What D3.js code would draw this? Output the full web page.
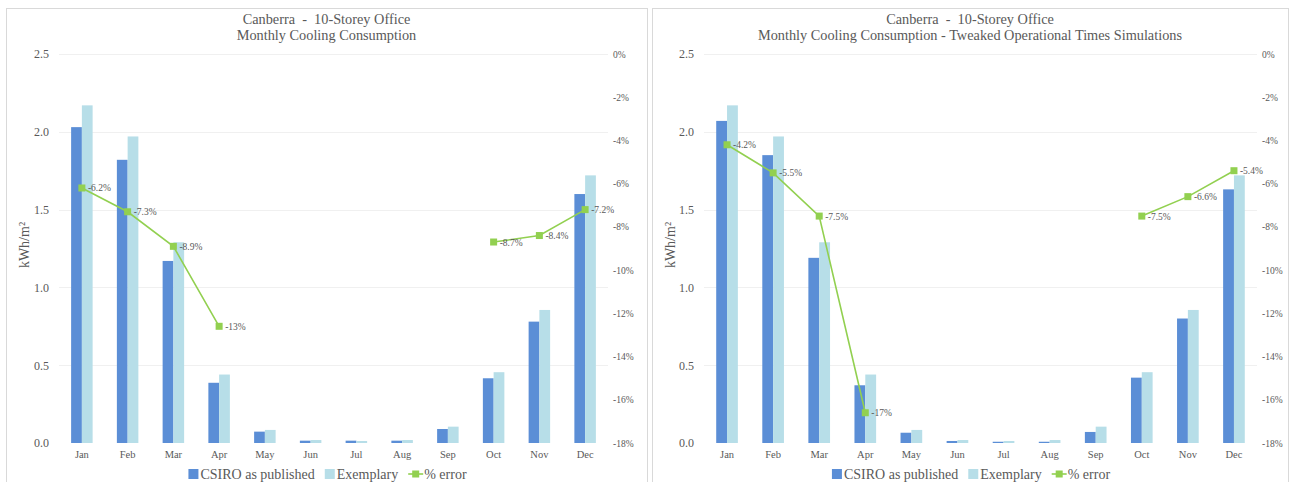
<!DOCTYPE html>
<html>
<head>
<meta charset="utf-8">
<script src="https://cdn.jsdelivr.net/npm/d3@7"></script>
<style>
  html, body { margin: 0; padding: 0; background: #fff; }
  svg { display: block; }
  text { font-family: "Liberation Serif", "DejaVu Serif", serif; fill: #595959; }
  .title { white-space: pre; }
</style>
</head>
<body>
<svg id="chart" width="1290" height="482"></svg>
<script>
// Monthly cooling consumption, Canberra 10-storey office (kWh/m²)
const months = ["Jan", "Feb", "Mar", "Apr", "May", "Jun", "Jul", "Aug", "Sep", "Oct", "Nov", "Dec"];
const exemplary = [2.17, 1.97, 1.29, 0.44, 0.084, 0.019, 0.013, 0.019, 0.105, 0.455, 0.855, 1.72];
const csiroPublished = [2.03, 1.82, 1.17, 0.387, 0.073, 0.015, 0.015, 0.015, 0.09, 0.416, 0.78, 1.60];
const csiroTweaked = [2.07, 1.85, 1.19, 0.371, 0.066, 0.013, 0.008, 0.008, 0.071, 0.42, 0.80, 1.63];
// Percentage error of CSIRO vs exemplary (winter months not plotted)
const errorPublished = [-6.2, -7.3, -8.9, -12.6, null, null, null, null, null, -8.7, -8.4, -7.2];
const errorTweaked = [-4.2, -5.5, -7.5, -16.6, null, null, null, null, null, -7.5, -6.6, -5.4];
// Axis ticks
const energyTicks = [0, 0.5, 1.0, 1.5, 2.0, 2.5];
const errorTicks = [0, -2, -4, -6, -8, -10, -12, -14, -16, -18];
const titleLine1 = "Canberra  -  10-Storey Office";
const titlesLine2 = ["Monthly Cooling Consumption", "Monthly Cooling Consumption - Tweaked Operational Times Simulations"];
const seriesNames = ["CSIRO as published", "Exemplary", "% error"];

const colors = { csiro: "#5B8ED6", exemplary: "#B7DEE8", error: "#92D050", grid: "#F0F0F0", border: "#D9D9D9" };

const locale = d3.formatLocale({ decimal: ".", thousands: ",", grouping: [3], currency: ["$", ""], minus: "-" });
const fmtPct = v => locale.format(".2r")(v) + "%";
const fmtAxisPct = v => locale.format("d")(v) + "%";
const fmtEnergy = locale.format(".1f");

const svg = d3.select("#chart");

function drawPanel(opts) {
  const { px, pw, plotLeft, plotRight, csiro, error, subtitle } = opts;
  const top = 54, bottom = 443;
  const g = svg.append("g");

  // panel frame
  g.append("rect")
    .attr("x", px + 0.5).attr("y", 8.5)
    .attr("width", pw).attr("height", 480)
    .attr("fill", "none").attr("stroke", colors.border).attr("stroke-width", 1);

  const x = d3.scaleBand().domain(months).range([plotLeft, plotRight]).paddingInner(0.53).paddingOuter(0.265);
  const xs = d3.scaleBand().domain(["csiro", "exemplary"]).range([0, x.bandwidth()]);
  const y = d3.scaleLinear().domain([0, 2.5]).range([bottom, top]);
  const y2 = d3.scaleLinear().domain([-18, 0]).range([bottom, top]);

  // gridlines
  g.append("g").selectAll("line").data(energyTicks.filter(t => t > 0)).join("line")
    .attr("x1", plotLeft).attr("x2", plotRight)
    .attr("y1", d => Math.round(y(d)) + 0.5).attr("y2", d => Math.round(y(d)) + 0.5)
    .attr("stroke", colors.grid).attr("stroke-width", 1);

  // left axis
  const leftAxis = g.append("g").attr("transform", `translate(${plotLeft},0)`)
    .call(d3.axisLeft(y).tickValues(energyTicks).tickFormat(fmtEnergy).tickSize(0).tickPadding(10));
  leftAxis.select(".domain").remove();
  leftAxis.selectAll("text").style("font-size", "12px");

  // right axis
  const rightAxis = g.append("g").attr("transform", `translate(${plotRight},0)`)
    .call(d3.axisRight(y2).tickValues(errorTicks).tickFormat(fmtAxisPct).tickSize(0).tickPadding(5));
  rightAxis.select(".domain").remove();
  rightAxis.selectAll("text").style("font-size", "9.5px");

  // month axis
  const bottomAxis = g.append("g").attr("transform", `translate(0,${bottom})`)
    .call(d3.axisBottom(x).tickSize(0).tickPadding(8));
  bottomAxis.select(".domain").remove();
  bottomAxis.selectAll("text").style("font-size", "10.5px");

  // y title
  g.append("text")
    .attr("transform", `translate(${px + 20},${245}) rotate(-90)`)
    .attr("text-anchor", "middle").attr("dominant-baseline", "middle")
    .style("font-size", "14px")
    .text("kWh/m²");

  // bars
  const rows = months.map((m, i) => ({ m, csiro: csiro[i], exemplary: exemplary[i] }));
  const groups = g.append("g").selectAll("g").data(rows).join("g")
    .attr("transform", d => `translate(${x(d.m)},0)`);
  groups.selectAll("rect").data(d => [
      { key: "csiro", v: d.csiro },
      { key: "exemplary", v: d.exemplary }
    ]).join("rect")
    .attr("x", d => xs(d.key))
    .attr("width", xs.bandwidth())
    .attr("y", d => y(d.v))
    .attr("height", d => y(0) - y(d.v))
    .attr("fill", d => colors[d.key]);

  // error line
  const pts = months.map((m, i) => ({ m, v: error[i] }));
  const line = d3.line().defined(d => d.v != null)
    .x(d => x(d.m) + x.bandwidth() / 2).y(d => y2(d.v));
  g.append("path").datum(pts).attr("d", line)
    .attr("fill", "none").attr("stroke", colors.error).attr("stroke-width", 1.6);
  const defined = pts.filter(d => d.v != null);
  g.append("g").selectAll("rect").data(defined).join("rect")
    .attr("x", d => x(d.m) + x.bandwidth() / 2 - 3.5)
    .attr("y", d => y2(d.v) - 3.5)
    .attr("width", 7).attr("height", 7)
    .attr("fill", colors.error);
  g.append("g").selectAll("text").data(defined).join("text")
    .attr("x", d => x(d.m) + x.bandwidth() / 2 + 6)
    .attr("y", d => y2(d.v) + 3.5)
    .style("font-size", "9.5px")
    .text(d => fmtPct(d.v));

  // titles
  const cx = px + pw / 2;
  g.append("text").attr("class", "title").attr("x", cx).attr("y", 24).attr("text-anchor", "middle")
    .style("font-size", "14.3px").text(titleLine1);
  g.append("text").attr("class", "title").attr("x", cx).attr("y", 40).attr("text-anchor", "middle")
    .style("font-size", "14.3px").text(subtitle);

  // legend
  const legend = g.append("g");
  const items = [
    { name: seriesNames[0], type: "box", color: colors.csiro },
    { name: seriesNames[1], type: "box", color: colors.exemplary },
    { name: seriesNames[2], type: "line", color: colors.error }
  ];
  let lx = 0;
  items.forEach(it => {
    const ig = legend.append("g");
    let w;
    if (it.type === "box") {
      ig.append("rect").attr("x", 0).attr("y", -5).attr("width", 10).attr("height", 10).attr("fill", it.color);
      w = 12;
    } else {
      ig.append("line").attr("x1", 0).attr("x2", 15).attr("y1", 0).attr("y2", 0)
        .attr("stroke", it.color).attr("stroke-width", 1.6);
      ig.append("rect").attr("x", 4).attr("y", -3.5).attr("width", 7).attr("height", 7).attr("fill", it.color);
      w = 16;
    }
    const t = ig.append("text").attr("x", w).attr("y", 5).style("font-size", "14px").text(it.name);
    const tw = t.node().getComputedTextLength();
    ig.attr("transform", `translate(${lx},0)`);
    lx += w + tw + 10;
  });
  const totalW = lx - 10;
  legend.attr("transform", `translate(${cx - totalW / 2 + 1},474)`);
}

drawPanel({ px: 6, pw: 641, plotLeft: 59, plotRight: 608, csiro: csiroPublished, error: errorPublished, subtitle: titlesLine2[0] });
drawPanel({ px: 652, pw: 636, plotLeft: 704, plotRight: 1257, csiro: csiroTweaked, error: errorTweaked, subtitle: titlesLine2[1] });
</script>
</body>
</html>
